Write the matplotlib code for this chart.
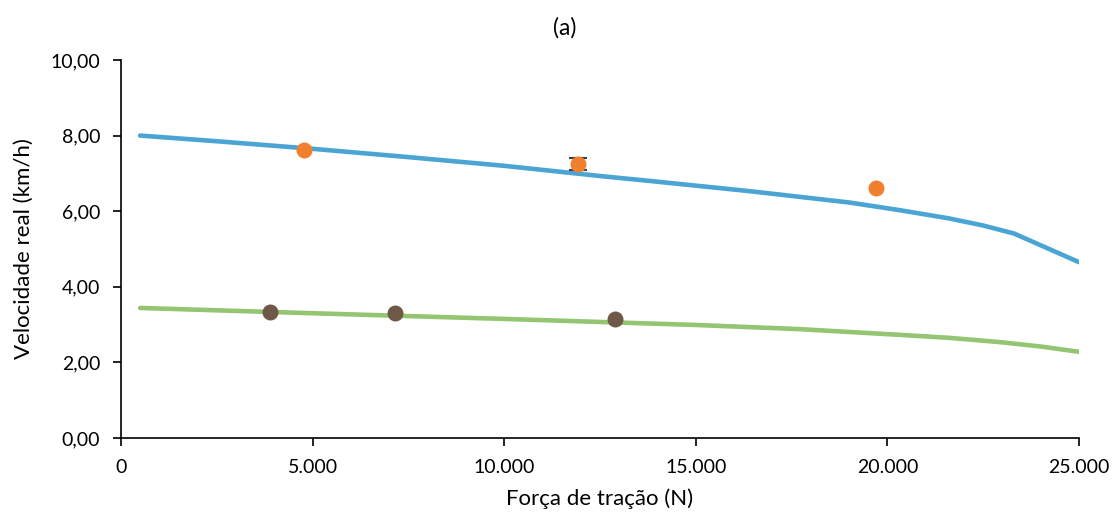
import matplotlib.pyplot as plt
from matplotlib.ticker import FuncFormatter

plt.rcParams["font.family"] = ["Lato", "DejaVu Sans"]

# fitted curves (traction force N, real speed km/h)
curve_hi_x = [500, 2500, 5000, 7500, 10000, 12500, 13800, 16400, 19000, 20300, 21600, 22500, 23300, 25000]
curve_hi_y = [8.00, 7.85, 7.65, 7.43, 7.20, 6.93, 6.80, 6.53, 6.23, 6.03, 5.81, 5.62, 5.41, 4.65]
curve_lo_x = [500, 5000, 10000, 15000, 17700, 20300, 21600, 22900, 24000, 25000]
curve_lo_y = [3.44, 3.30, 3.15, 2.99, 2.88, 2.73, 2.65, 2.54, 2.42, 2.28]

# measured points
meas_hi_x = [4776, 11926, 19703]
meas_hi_y = [7.63, 7.25, 6.60]
meas_hi_err = [0.0, 0.15, 0.0]
meas_lo_x = [3888, 7150, 12891]
meas_lo_y = [3.32, 3.30, 3.16]

fig = plt.figure(figsize=(11.18, 5.26), dpi=100)
ax = fig.add_axes([0.1082, 0.1673, 0.8570, 0.7187])

ax.plot(curve_hi_x, curve_hi_y, color="#4aa5d5", lw=3.3, solid_capstyle="round", zorder=2)
ax.plot(curve_lo_x, curve_lo_y, color="#93c572", lw=3.3, solid_capstyle="round", zorder=2)

# error bars only where there is a spread
eb = [(x, y, e) for x, y, e in zip(meas_hi_x, meas_hi_y, meas_hi_err) if e > 0]
ax.errorbar([p[0] for p in eb], [p[1] for p in eb], yerr=[p[2] for p in eb],
            fmt="none", ecolor="#404040", elinewidth=1, capsize=6.5, capthick=1.5, zorder=3)
ax.plot(meas_hi_x, meas_hi_y, "o", color="#f07f2e", ms=11.5, mec="none", zorder=4)
ax.plot(meas_lo_x, meas_lo_y, "o", color="#6e5847", ms=11.5, mec="none", zorder=4)

ax.set_xlim(0, 25000)
ax.set_ylim(0, 10)
ax.set_xticks([0, 5000, 10000, 15000, 20000, 25000])
ax.set_yticks([0, 2, 4, 6, 8, 10])
ax.xaxis.set_major_formatter(FuncFormatter(lambda v, p: f"{int(v):,}".replace(",", ".")))
ax.yaxis.set_major_formatter(FuncFormatter(lambda v, p: f"{v:.2f}".replace(".", ",")))

for s in ["top", "right"]:
    ax.spines[s].set_visible(False)
for s in ["left", "bottom"]:
    ax.spines[s].set_color("#000000")
    ax.spines[s].set_linewidth(1.2)
ax.tick_params(axis="both", direction="out", length=6, width=1.2, labelsize=14,
               colors="#000000", pad=9)

ax.set_xlabel("Força de tração (N)", fontsize=16, labelpad=9)
ax.set_ylabel("Velocidade real (km/h)", fontsize=16, labelpad=12)
fig.text(0.505, 0.948, "(a)", ha="center", va="center", fontsize=16.5)

fig.savefig("out.png", dpi=100)
